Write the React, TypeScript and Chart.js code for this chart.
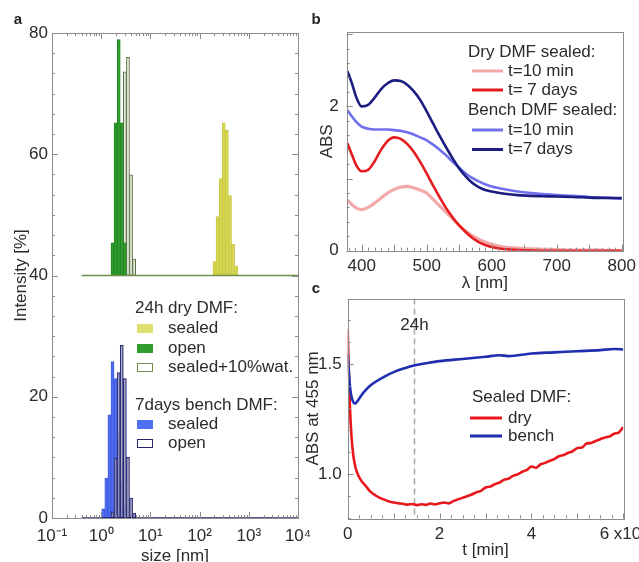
import React, { useEffect, useRef } from 'react';
import { Chart, registerables } from 'chart.js';

Chart.register(...registerables);

const FONT = "'Liberation Sans', Arial, Helvetica, sans-serif";
const TEXT = '#2b2b2b';
const FRAME = '#8c8c8c';
Chart.defaults.font.family = FONT;

// ---------------- Panel a (DLS size distributions) ----------------
const sizeTicks = [0.1, 1, 10, 100, 1000, 10000];
const sizeTickLabels = ['10⁻¹', '10⁰', '10¹', '10²', '10³', '10⁴'];
const intensityTicks = [0, 20, 40, 60, 80];
const upperOffset = 40; // 24h group is drawn shifted up by 40 %

const dryOpenSizes = [1.698, 1.963, 2.268, 2.62, 3.028];
const dryOpen = [5.4, 25.2, 38.9, 25.2, 5.4];
const dryWaterSizes = [2.62, 3.028, 3.499, 4.045, 4.674];
const dryWater = [11, 33.6, 36, 16.6, 2.7];
const drySealedSizes = [200.6, 231.8, 267.9, 309.6, 357.8, 413.5, 477.8, 552.1];
const drySealed = [2.3, 9.7, 16, 25.2, 24, 13.2, 5.2, 1.6];
const benchSealedSizes = [1.1, 1.272, 1.47, 1.698, 1.963, 2.268, 2.62, 3.028];
const benchSealed = [1.5, 6.6, 17, 25.8, 23, 14, 6, 2];
const benchOpenSizes = [1.698, 1.963, 2.268, 2.62, 3.028, 3.499, 4.045, 4.674];
const benchOpen = [1, 9.9, 24, 28.5, 23, 10, 3.3, 0.8];
const baselineSizes = [0.4, 10000];

// ---------------- Panel b (spectra) ----------------
const lambda = [378, 385, 392, 400, 410, 420, 430, 440, 450, 460, 470, 480, 490, 500, 510, 520, 530, 540, 550, 560, 570, 580, 590, 600, 620, 640, 660, 680, 700, 725, 750, 775, 800];
const dry10min = [0.70, 0.64, 0.59, 0.57, 0.60, 0.66, 0.73, 0.80, 0.85, 0.88, 0.89, 0.87, 0.84, 0.80, 0.71, 0.62, 0.53, 0.44, 0.35, 0.27, 0.21, 0.16, 0.12, 0.09, 0.05, 0.035, 0.025, 0.02, 0.015, 0.01, 0.01, 0.005, 0];
const dry7days = [1.49, 1.33, 1.18, 1.10, 1.12, 1.24, 1.40, 1.52, 1.57, 1.55, 1.48, 1.37, 1.23, 1.07, 0.90, 0.74, 0.59, 0.46, 0.35, 0.26, 0.18, 0.12, 0.08, 0.05, 0.02, 0.01, 0.005, 0, 0, 0, 0, 0, 0];
const bench10min = [1.95, 1.86, 1.78, 1.72, 1.69, 1.68, 1.68, 1.68, 1.67, 1.66, 1.64, 1.61, 1.57, 1.53, 1.47, 1.40, 1.32, 1.23, 1.15, 1.07, 1.01, 0.96, 0.92, 0.89, 0.85, 0.82, 0.80, 0.785, 0.77, 0.76, 0.745, 0.735, 0.72];
const bench7days = [2.49, 2.32, 2.12, 2.00, 2.02, 2.12, 2.24, 2.32, 2.36, 2.35, 2.30, 2.21, 2.09, 1.93, 1.76, 1.59, 1.43, 1.28, 1.14, 1.03, 0.94, 0.88, 0.84, 0.82, 0.79, 0.77, 0.76, 0.755, 0.75, 0.745, 0.735, 0.73, 0.73];
const lambdaTicks = [400, 500, 600, 700, 800];
const absTicksB = [0, 2];

// ---------------- Panel c (kinetics) ----------------
const tDry = [0, 0.02, 0.05, 0.08, 0.12, 0.16, 0.2, 0.3, 0.4, 0.5, 0.6, 0.7, 0.8, 0.9, 1.0, 1.1, 1.2, 1.3, 1.4, 1.5, 1.6, 1.7, 1.8, 1.9, 2.0, 2.1, 2.2, 2.3, 2.4, 2.5, 2.6, 2.7, 2.8, 2.9, 3.0, 3.1, 3.2, 3.3, 3.4, 3.5, 3.6, 3.7, 3.8, 3.9, 4.0, 4.1, 4.2, 4.3, 4.4, 4.5, 4.6, 4.7, 4.8, 4.9, 5.0, 5.1, 5.2, 5.3, 5.4, 5.5, 5.6, 5.7, 5.8, 5.9, 6.0];
const absDry = [1.66, 1.50, 1.30, 1.18, 1.09, 1.04, 1.01, 0.97, 0.945, 0.92, 0.905, 0.893, 0.885, 0.876, 0.872, 0.868, 0.866, 0.862, 0.865, 0.860, 0.864, 0.861, 0.867, 0.863, 0.868, 0.872, 0.868, 0.878, 0.886, 0.893, 0.900, 0.908, 0.918, 0.925, 0.940, 0.944, 0.955, 0.962, 0.975, 0.980, 0.993, 1.000, 1.012, 1.020, 1.036, 1.030, 1.046, 1.052, 1.062, 1.070, 1.082, 1.088, 1.098, 1.105, 1.120, 1.122, 1.140, 1.143, 1.152, 1.160, 1.168, 1.172, 1.185, 1.190, 1.215];
const tBench = [0, 0.03, 0.06, 0.1, 0.16, 0.22, 0.3, 0.4, 0.5, 0.6, 0.8, 1.0, 1.2, 1.44, 1.7, 2.0, 2.5, 3.0, 3.3, 3.5, 4.0, 4.5, 5.0, 5.5, 5.8, 6.0];
const absBench = [1.55, 1.45, 1.38, 1.34, 1.322, 1.335, 1.36, 1.385, 1.405, 1.42, 1.445, 1.465, 1.48, 1.495, 1.505, 1.515, 1.525, 1.535, 1.542, 1.538, 1.55, 1.555, 1.56, 1.565, 1.57, 1.568];
const tTicks = [0, 2, 4, 6];
const tTickLabels = ['0', '2', '4', '6 x10³'];
const absTicksC = [1.0, 1.5];
const dayMarkT = 1.44;

// ---------- helpers ----------
function steps(from: number, to: number, step: number) {
  const out: number[] = [];
  for (let v = from; v <= to + 1e-9; v += step) out.push(Math.round(v * 1e6) / 1e6);
  return out;
}
function logMinor(decades: number[]) {
  const out: number[] = [];
  decades.forEach((d) => { for (let m = 2; m <= 9; m++) out.push(d * m); });
  return out;
}

const framePlugin = {
  id: 'frame',
  afterDatasetsDraw(chart: any, _args: any, opts: any) {
    const { ctx, chartArea: a, scales } = chart;
    ctx.save();
    ctx.strokeStyle = opts.color || FRAME;
    ctx.lineWidth = 1;
    (opts.ticks || []).forEach((spec: any) => {
      const horiz = spec.side === 'bottom' || spec.side === 'top';
      const scale = horiz ? scales.x : scales.y;
      ctx.beginPath();
      spec.values.forEach((v: number) => {
        const p = scale.getPixelForValue(v);
        if (horiz && (p < a.left - 0.5 || p > a.right + 0.5)) return;
        if (!horiz && (p < a.top - 0.5 || p > a.bottom + 0.5)) return;
        const q = Math.round(p) + 0.5;
        if (spec.side === 'bottom') { ctx.moveTo(q, a.bottom); ctx.lineTo(q, a.bottom - spec.len); }
        if (spec.side === 'top') { ctx.moveTo(q, a.top); ctx.lineTo(q, a.top + spec.len); }
        if (spec.side === 'left') { ctx.moveTo(a.left, q); ctx.lineTo(a.left + spec.len, q); }
        if (spec.side === 'right') { ctx.moveTo(a.right, q); ctx.lineTo(a.right - spec.len, q); }
      });
      ctx.stroke();
    });
    ctx.strokeRect(Math.round(a.left) + 0.5, Math.round(a.top) + 0.5, Math.round(a.right - a.left), Math.round(a.bottom - a.top));
    ctx.restore();
  },
};

const annotPlugin = {
  id: 'annot',
  afterDraw(chart: any, _args: any, opts: any) {
    const { ctx } = chart;
    ctx.save();
    (opts.items || []).forEach((it: any) => {
      if (it.t === 'text') {
        ctx.font = it.font || `17px ${FONT}`;
        ctx.fillStyle = it.color || TEXT;
        ctx.textAlign = it.align || 'left';
        ctx.textBaseline = 'middle';
        ctx.fillText(it.text, it.x, it.y);
      } else if (it.t === 'box') {
        ctx.fillStyle = it.fill;
        ctx.fillRect(it.x, it.y, it.w, it.h);
        if (it.stroke) { ctx.strokeStyle = it.stroke; ctx.lineWidth = 1; ctx.strokeRect(it.x + 0.5, it.y + 0.5, it.w - 1, it.h - 1); }
      } else if (it.t === 'line') {
        ctx.strokeStyle = it.color; ctx.lineWidth = it.width || 3;
        ctx.beginPath(); ctx.moveTo(it.x1, it.y); ctx.lineTo(it.x2, it.y); ctx.stroke();
      }
    });
    ctx.restore();
  },
};

const markerPlugin = {
  id: 'marker',
  beforeDatasetsDraw(chart: any, _args: any, opts: any) {
    if (opts.value === undefined) return;
    const { ctx, chartArea: a, scales } = chart;
    const x = Math.round(scales.x.getPixelForValue(opts.value)) + 0.5;
    ctx.save();
    ctx.strokeStyle = '#a8a8a8'; ctx.lineWidth = 1.5; ctx.setLineDash([6, 4]);
    ctx.beginPath(); ctx.moveTo(x, a.top); ctx.lineTo(x, a.bottom); ctx.stroke();
    ctx.setLineDash([]);
    ctx.font = `17px ${FONT}`; ctx.fillStyle = TEXT; ctx.textAlign = 'center'; ctx.textBaseline = 'middle';
    ctx.fillText(opts.text, x, opts.textY);
    ctx.restore();
  },
};

const tickFont = { family: FONT, size: 17 };

function barSet(sizes: number[], vals: number[], base: number, fill: string, border: string, bw: number) {
  return {
    type: 'bar',
    data: sizes.map((s, i) => ({ x: s, y: [base, base + vals[i]] })),
    backgroundColor: fill,
    borderColor: border,
    borderWidth: bw,
    borderSkipped: false,
    grouped: false,
    barPercentage: 1,
    categoryPercentage: 1,
  };
}

function configA(): any {
  const Y = '#d6d650', G = '#2f9e2f', B = '#4f6ff2';
  return {
    type: 'bar',
    data: {
      datasets: [
        { type: 'line', data: baselineSizes.map((s) => ({ x: s, y: upperOffset })), borderColor: '#6f8f4a', borderWidth: 1.5, pointRadius: 0 },
        { type: 'line', data: baselineSizes.map((s) => ({ x: s, y: 0 })), borderColor: '#1d1d6e', borderWidth: 1.5, pointRadius: 0 },
        barSet(dryOpenSizes, dryOpen, upperOffset, G, '#1f7a1f', 0.8),
        barSet(dryWaterSizes, dryWater, upperOffset, '#e2e9d8', '#5b7048', 1),
        barSet(drySealedSizes, drySealed, upperOffset, Y, '#c4c440', 0.8),
        barSet(benchOpenSizes, benchOpen, 0, 'rgba(205,205,228,0.55)', '#25256f', 1),
        barSet(benchSealedSizes, benchSealed, 0, B, '#3a55d8', 0.8),
      ],
    },
    options: {
      animation: false, responsive: false, maintainAspectRatio: false,
      layout: { padding: { left: 0, right: 26, top: 33, bottom: 0 } },
      plugins: {
        legend: { display: false }, tooltip: { enabled: false },
        frame: {
          color: FRAME,
          ticks: [
            { side: 'bottom', values: sizeTicks, len: 6 }, { side: 'bottom', values: logMinor([0.1, 1, 10, 100, 1000]), len: 3 },
            { side: 'top', values: sizeTicks, len: 6 }, { side: 'top', values: logMinor([0.1, 1, 10, 100, 1000]), len: 3 },
            { side: 'left', values: intensityTicks, len: 6 }, { side: 'left', values: steps(0, 80, 20 / 6), len: 3 },
            { side: 'right', values: intensityTicks, len: 6 }, { side: 'right', values: steps(0, 80, 20 / 6), len: 3 },
          ],
        },
        annot: {
          items: [
            { t: 'text', x: 18, y: 20, text: 'a', font: `bold 15px ${FONT}`, align: 'center', color: '#222' },
            { t: 'text', x: 135, y: 308, text: '24h dry DMF:' },
            { t: 'box', x: 137, y: 324, w: 16, h: 9, fill: '#e0e070' },
            { t: 'text', x: 168, y: 328, text: 'sealed' },
            { t: 'box', x: 137, y: 344, w: 16, h: 9, fill: G },
            { t: 'text', x: 168, y: 348, text: 'open' },
            { t: 'box', x: 137, y: 363, w: 16, h: 9, fill: '#ffffff', stroke: '#6f8f4a' },
            { t: 'text', x: 168, y: 367, text: 'sealed+10%wat.' },
            { t: 'text', x: 135, y: 405, text: '7days bench DMF:' },
            { t: 'box', x: 137, y: 420, w: 16, h: 9, fill: B },
            { t: 'text', x: 168, y: 424, text: 'sealed' },
            { t: 'box', x: 137, y: 439, w: 16, h: 9, fill: '#ffffff', stroke: '#25256f' },
            { t: 'text', x: 168, y: 443, text: 'open' },
          ],
        },
      },
      scales: {
        x: {
          type: 'logarithmic', min: 0.1, max: 10000, offset: false,
          grid: { display: false, drawTicks: false }, border: { display: false },
          afterBuildTicks: (s: any) => { s.ticks = sizeTicks.map((v) => ({ value: v })); },
          ticks: { callback: (v: number) => { const i = sizeTicks.indexOf(v); return i >= 0 ? sizeTickLabels[i] : ''; }, padding: 8, font: tickFont, color: TEXT, autoSkip: false, maxRotation: 0 },
          title: { display: true, text: 'size [nm]', font: tickFont, color: TEXT, padding: { top: 0, bottom: 8 } },
          afterFit: (s: any) => { s.height = 57; },
        },
        y: {
          min: 0, max: 80,
          grid: { display: false, drawTicks: false }, border: { display: false },
          afterBuildTicks: (s: any) => { s.ticks = intensityTicks.map((v) => ({ value: v })); },
          ticks: { padding: 4, font: tickFont, color: TEXT },
          title: { display: true, text: 'Intensity [%]', font: tickFont, color: TEXT, padding: { top: 11, bottom: 0 } },
          afterFit: (s: any) => { s.width = 52; },
        },
      },
    },
    plugins: [framePlugin, annotPlugin],
  };
}

function lineSet(xs: number[], ys: number[], color: string, width: number) {
  return {
    data: xs.map((x, i) => ({ x, y: ys[i] })),
    borderColor: color, borderWidth: width, pointRadius: 0,
    cubicInterpolationMode: 'monotone', fill: false,
  };
}

function configB(): any {
  const PINK = '#f3a9aa', RED = '#e41b1f', LB = '#7070ee', NAVY = '#1b1e80';
  return {
    type: 'line',
    data: {
      datasets: [
        lineSet(lambda, bench7days, NAVY, 2.6),
        lineSet(lambda, bench10min, LB, 2.6),
        lineSet(lambda, dry7days, RED, 2.6),
        lineSet(lambda, dry10min, PINK, 3.2),
      ],
    },
    options: {
      animation: false, responsive: false, maintainAspectRatio: false,
      layout: { padding: { left: 0, right: 26, top: 32, bottom: 0 } },
      plugins: {
        legend: { display: false }, tooltip: { enabled: false },
        frame: {
          color: FRAME,
          ticks: [
            { side: 'bottom', values: steps(400, 800, 50), len: 6 }, { side: 'bottom', values: steps(380, 800, 10), len: 3 },
            { side: 'left', values: steps(0, 3, 1), len: 6 }, { side: 'left', values: steps(0, 3, 0.2), len: 3 },
          ],
        },
        annot: {
          items: [
            { t: 'text', x: 6, y: 20, text: 'b', font: `bold 15px ${FONT}`, align: 'center', color: '#222' },
            { t: 'text', x: 158, y: 52, text: 'Dry DMF sealed:' },
            { t: 'line', x1: 162, x2: 193, y: 71, color: PINK },
            { t: 'text', x: 198, y: 71, text: 't=10 min' },
            { t: 'line', x1: 162, x2: 193, y: 90, color: RED },
            { t: 'text', x: 198, y: 90, text: 't= 7 days' },
            { t: 'text', x: 158, y: 110, text: 'Bench DMF sealed:' },
            { t: 'line', x1: 162, x2: 193, y: 130, color: LB },
            { t: 'text', x: 198, y: 130, text: 't=10 min' },
            { t: 'line', x1: 162, x2: 193, y: 149.5, color: NAVY },
            { t: 'text', x: 198, y: 149.5, text: 't=7 days' },
          ],
        },
      },
      scales: {
        x: {
          type: 'linear', min: 377, max: 802,
          grid: { display: false, drawTicks: false }, border: { display: false },
          afterBuildTicks: (s: any) => { s.ticks = lambdaTicks.map((v) => ({ value: v })); },
          ticks: { padding: 5, font: tickFont, color: TEXT, autoSkip: false, maxRotation: 0 },
          title: { display: true, text: 'λ [nm]', font: tickFont, color: TEXT, padding: { top: 0, bottom: 1 } },
          afterFit: (s: any) => { s.height = 44.3; },
        },
        y: {
          min: 0, max: 3.03,
          grid: { display: false, drawTicks: false }, border: { display: false },
          afterBuildTicks: (s: any) => { s.ticks = absTicksB.map((v) => ({ value: v })); },
          ticks: { padding: 8, font: tickFont, color: TEXT },
          title: { display: true, text: 'ABS', font: tickFont, color: TEXT, padding: { top: 7, bottom: 0 } },
          afterFit: (s: any) => { s.width = 36.7; },
        },
      },
    },
    plugins: [framePlugin, annotPlugin],
  };
}

function configC(): any {
  const RED = '#e8171c', BLUE = '#1f2db0';
  return {
    type: 'line',
    data: {
      datasets: [
        lineSet(tBench, absBench, BLUE, 2.6),
        lineSet(tDry, absDry, RED, 2.6),
      ],
    },
    options: {
      animation: false, responsive: false, maintainAspectRatio: false,
      layout: { padding: { left: 0, right: 31.7, top: 18.5, bottom: 0 } },
      plugins: {
        legend: { display: false }, tooltip: { enabled: false },
        marker: { value: dayMarkT, text: '24h', textY: 45 },
        frame: {
          color: FRAME,
          ticks: [
            { side: 'bottom', values: steps(0, 6, 1), len: 5 }, { side: 'bottom', values: steps(0, 6, 0.25), len: 3 },
            { side: 'left', values: absTicksC, len: 6 }, { side: 'left', values: steps(0.8, 1.8, 0.1), len: 3 },
          ],
        },
        annot: {
          items: [
            { t: 'text', x: 16, y: 9, text: 'c', font: `bold 15px ${FONT}`, align: 'center', color: '#222' },
            { t: 'text', x: 172, y: 117, text: 'Sealed DMF:' },
            { t: 'line', x1: 170, x2: 202, y: 138, color: RED },
            { t: 'text', x: 208, y: 138, text: 'dry' },
            { t: 'line', x1: 170, x2: 202, y: 156, color: BLUE },
            { t: 'text', x: 208, y: 156, text: 'bench' },
          ],
        },
      },
      scales: {
        x: {
          type: 'linear', min: 0, max: 6,
          grid: { display: false, drawTicks: false }, border: { display: false },
          afterBuildTicks: (s: any) => { s.ticks = tTicks.map((v) => ({ value: v })); },
          ticks: { callback: (v: number) => { const i = tTicks.indexOf(v); return i >= 0 ? tTickLabels[i] : ''; }, padding: 6, font: tickFont, color: TEXT, autoSkip: false, maxRotation: 0 },
          title: { display: true, text: 't [min]', font: tickFont, color: TEXT, padding: { top: 0, bottom: 9.8 } },
          afterFit: (s: any) => { s.height = 51.7; },
        },
        y: {
          min: 0.8, max: 1.8,
          grid: { display: false, drawTicks: false }, border: { display: false },
          afterBuildTicks: (s: any) => { s.ticks = absTicksC.map((v) => ({ value: v })); },
          ticks: { callback: (v: number) => v.toFixed(1), padding: 6, font: tickFont, color: TEXT },
          title: { display: true, text: 'ABS at 455 nm', font: tickFont, color: TEXT, padding: { top: 3.5, bottom: 0 } },
          afterFit: (s: any) => { s.width = 47.7; },
        },
      },
    },
    plugins: [framePlugin, annotPlugin, markerPlugin],
  };
}

export default function App() {
  const ra = useRef<HTMLCanvasElement>(null);
  const rb = useRef<HTMLCanvasElement>(null);
  const rc = useRef<HTMLCanvasElement>(null);
  useEffect(() => {
    const a = new Chart(ra.current as HTMLCanvasElement, configA());
    const b = new Chart(rb.current as HTMLCanvasElement, configB());
    const c = new Chart(rc.current as HTMLCanvasElement, configC());
    return () => { a.destroy(); b.destroy(); c.destroy(); };
  }, []);
  const abs = (l: number, t: number, w: number, h: number): React.CSSProperties => ({ position: 'absolute', left: l, top: t, width: w, height: h });
  return (
    <div style={{ position: 'fixed', left: 0, top: 0, width: 639, height: 562, overflow: 'hidden', background: '#ffffff' }}>
      <canvas ref={ra} width={324} height={575} style={abs(0, 0, 324, 575)} />
      <canvas ref={rb} width={339} height={295} style={abs(310, 0, 339, 295)} />
      <canvas ref={rc} width={355} height={290} style={abs(300, 280, 355, 290)} />
    </div>
  );
}
